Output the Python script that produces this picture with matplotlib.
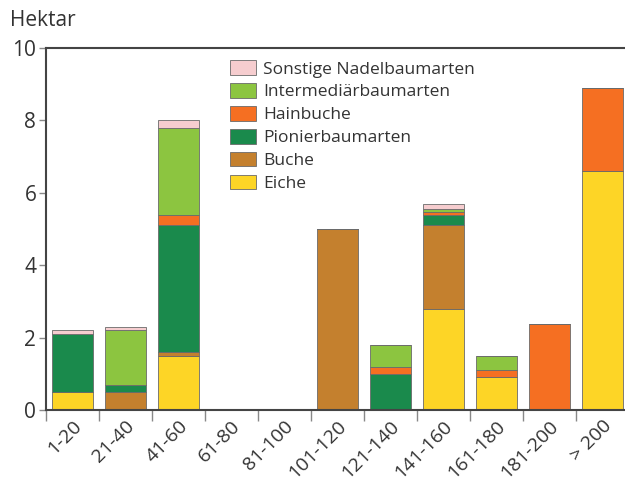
import matplotlib
matplotlib.use("Agg")
import matplotlib.pyplot as plt
import numpy as np

plt.rcParams['font.family'] = ['Open Sans', 'DejaVu Sans']

categories = ["1-20", "21-40", "41-60", "61-80", "81-100", "101-120",
              "121-140", "141-160", "161-180", "181-200", "> 200"]

eiche      = [0.5, 0.0, 1.5, 0, 0, 0.0, 0.0, 2.8, 0.9, 0.0, 6.6]
buche      = [0.0, 0.5, 0.1, 0, 0, 5.0, 0.0, 2.3, 0.0, 0.0, 0.0]
pionier    = [1.6, 0.2, 3.5, 0, 0, 0.0, 1.0, 0.3, 0.0, 0.0, 0.0]
hainbuche  = [0.0, 0.0, 0.3, 0, 0, 0.0, 0.2, 0.07, 0.2, 2.38, 2.3]
intermed   = [0.0, 1.5, 2.4, 0, 0, 0.0, 0.6, 0.08, 0.4, 0.0, 0.0]
sonstige   = [0.1, 0.1, 0.2, 0, 0, 0.0, 0.0, 0.15, 0.0, 0.0, 0.0]

series = [
    ("Eiche", eiche, "#FDD526"),
    ("Buche", buche, "#C4802E"),
    ("Pionierbaumarten", pionier, "#1A8A4C"),
    ("Hainbuche", hainbuche, "#F56F22"),
    ("Intermediärbaumarten", intermed, "#8CC540"),
    ("Sonstige Nadelbaumarten", sonstige, "#F6CDCF"),
]

fig = plt.figure(figsize=(6.25, 4.82), dpi=100)
ax = fig.add_axes([46/625, 72/482, 583/625, 362/482])

x = np.arange(len(categories))
bottom = np.zeros(len(categories))
handles = []
for name, vals, col in series:
    v = np.array(vals, dtype=float)
    b = ax.bar(x, v, bottom=bottom, width=0.76, color=col,
               edgecolor="#6a6a6a", linewidth=0.6, label=name)
    handles.append(b)
    bottom += v

ax.set_xlim(-0.5, len(categories) - 0.5)
ax.set_ylim(0, 10)
ax.set_yticks([0, 2, 4, 6, 8, 10])
ax.tick_params(axis='y', labelsize=15, colors="#333333", length=5, width=1,
               direction='out', pad=2)
ax.set_xticks(x - 0.5, minor=False)
ax.set_xticklabels([])
ax.set_xticks(x, minor=True)
ax.set_xticklabels(categories, minor=True, rotation=45, ha='right',
                   rotation_mode='anchor', fontsize=14, color="#333333")
ax.tick_params(axis='x', which='major', length=8, width=1, color="#888888")
ax.tick_params(axis='x', which='minor', length=0, pad=5)

for s in ['left', 'bottom', 'top']:
    ax.spines[s].set_color("#444444")
    ax.spines[s].set_linewidth(1.5)
ax.spines['right'].set_visible(False)
ax.tick_params(axis='y', color="#888888")

fig.text(10/625, 1 - 20/482, "Hektar", fontsize=15, color="#333333",
         va='center', ha='left')

leg = ax.legend(handles[::-1], [s[0] for s in series][::-1],
                loc='upper left', bbox_to_anchor=(0.303, 0.985),
                frameon=False, fontsize=12.5, handlelength=1.5,
                handleheight=0.9, handletextpad=0.45, labelspacing=0.33,
                borderaxespad=0)
for t in leg.get_texts():
    t.set_color("#333333")

fig.savefig("out.png", dpi=100)
